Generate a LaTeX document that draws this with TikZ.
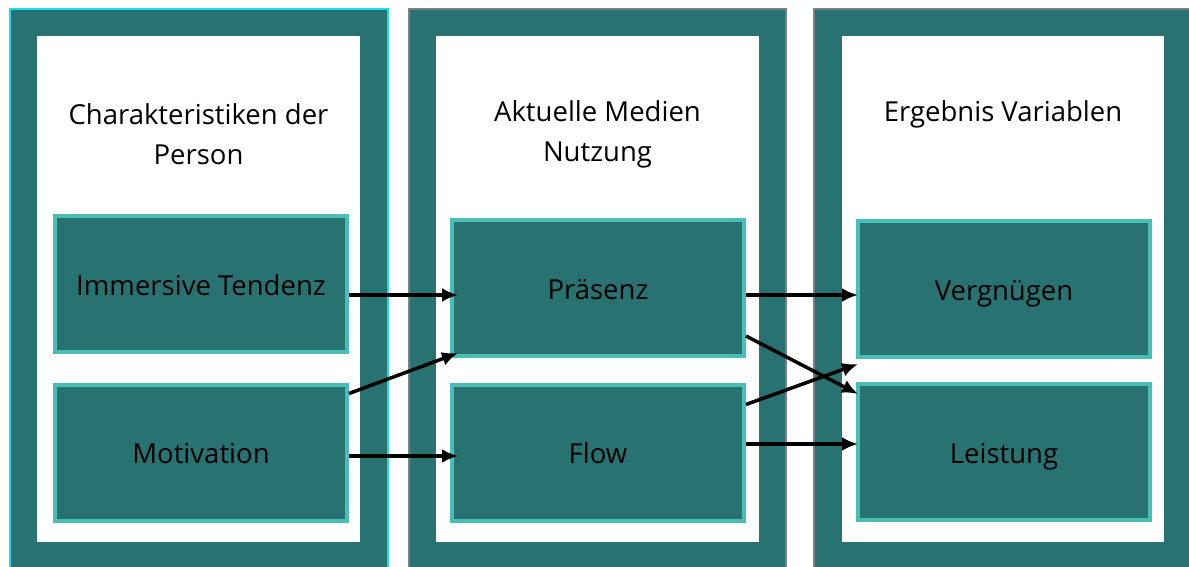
\documentclass[tikz,border=0pt]{standalone}
\usepackage{fontspec}
\setmainfont{Open Sans}
\usetikzlibrary{arrows.meta}
\definecolor{teal1}{RGB}{40,114,113}
\definecolor{boxedge}{RGB}{72,190,182}
\definecolor{cyanline}{RGB}{30,220,225}
\definecolor{grayline}{RGB}{122,128,138}
\tikzstyle{box} = [draw=boxedge, line width=4pt, fill=teal1, minimum width=292,
  minimum height=136, inner sep=0, text height=26pt, text depth=4pt,
  font=\fontsize{27.5}{32}\selectfont]
\tikzstyle{title} = [align=center, font=\fontsize{27.5}{40}\selectfont]
\tikzstyle{line} = [draw, line width=3.5pt, -{Latex[length=16pt,width=14pt]}]

\begin{document}
\begin{tikzpicture}[x=1pt, y=-1pt]
    \useasboundingbox (0,0) rectangle (1189,567);
    \clip (0,0) rectangle (1189,567);
    % the three columns
    \fill[teal1] (9,8) rectangle (388,590);
    \draw[cyanline, line width=2pt] (10,600) -- (10,9) -- (388,9) -- (388,600);
    \fill[white] (37,36) rectangle (360,542);
    \fill[teal1] (408,8) rectangle (787,590);
    \draw[grayline, line width=2pt] (409,600) -- (409,9) -- (786,9) -- (786,600);
    \fill[white] (436,36) rectangle (759,542);
    \fill[teal1] (813,8) rectangle (1195,590);
    \draw[grayline, line width=2pt] (814,600) -- (814,9) -- (1195,9);
    \fill[white] (842,36) rectangle (1164,542);
    \node[title] (persontitle) at (198.5,134) {Charakteristiken der\\Person};
    \node[title] (nutzungtitle) at (597.5,134) {Aktuelle Medien\\Nutzung};
    \node[title] (ergebnistitle) at (1003,114) {Ergebnis Variablen};
    % boxes
    \node[box] (immersive) at (201,284) {Immersive Tendenz};
    \node[box] (motivation) at (201,452.5) {Motivation};
    \node[box] (praesenz) at (598,288) {Präsenz};
    \node[box] (flow) at (598,452.5) {Flow};
    \node[box] (vergnuegen) at (1004,289) {Vergnügen};
    \node[box] (leistung) at (1004,452) {Leistung};
    % arrows
    \path[line] ([yshift=-11]immersive.east) -- ([xshift=8,yshift=-7]praesenz.west);
    \path[line] ([yshift=-11]motivation.north east) -- ([xshift=8,yshift=5]praesenz.south west);
    \path[line] ([yshift=-3.5]motivation.east) -- ([xshift=8,yshift=-3.5]flow.west);
    \path[line] ([yshift=-7]praesenz.east) -- ([xshift=2,yshift=-6]vergnuegen.west);
    \path[line] ([yshift=-48]praesenz.east) -- ([xshift=2,yshift=-12]leistung.north west);
    \path[line] ([yshift=-22]flow.north east) -- ([xshift=2,yshift=-5]vergnuegen.south west);
    \path[line] ([yshift=8.5]flow.east) -- ([xshift=2,yshift=8]leistung.west);
  \end{tikzpicture}
\end{document}
